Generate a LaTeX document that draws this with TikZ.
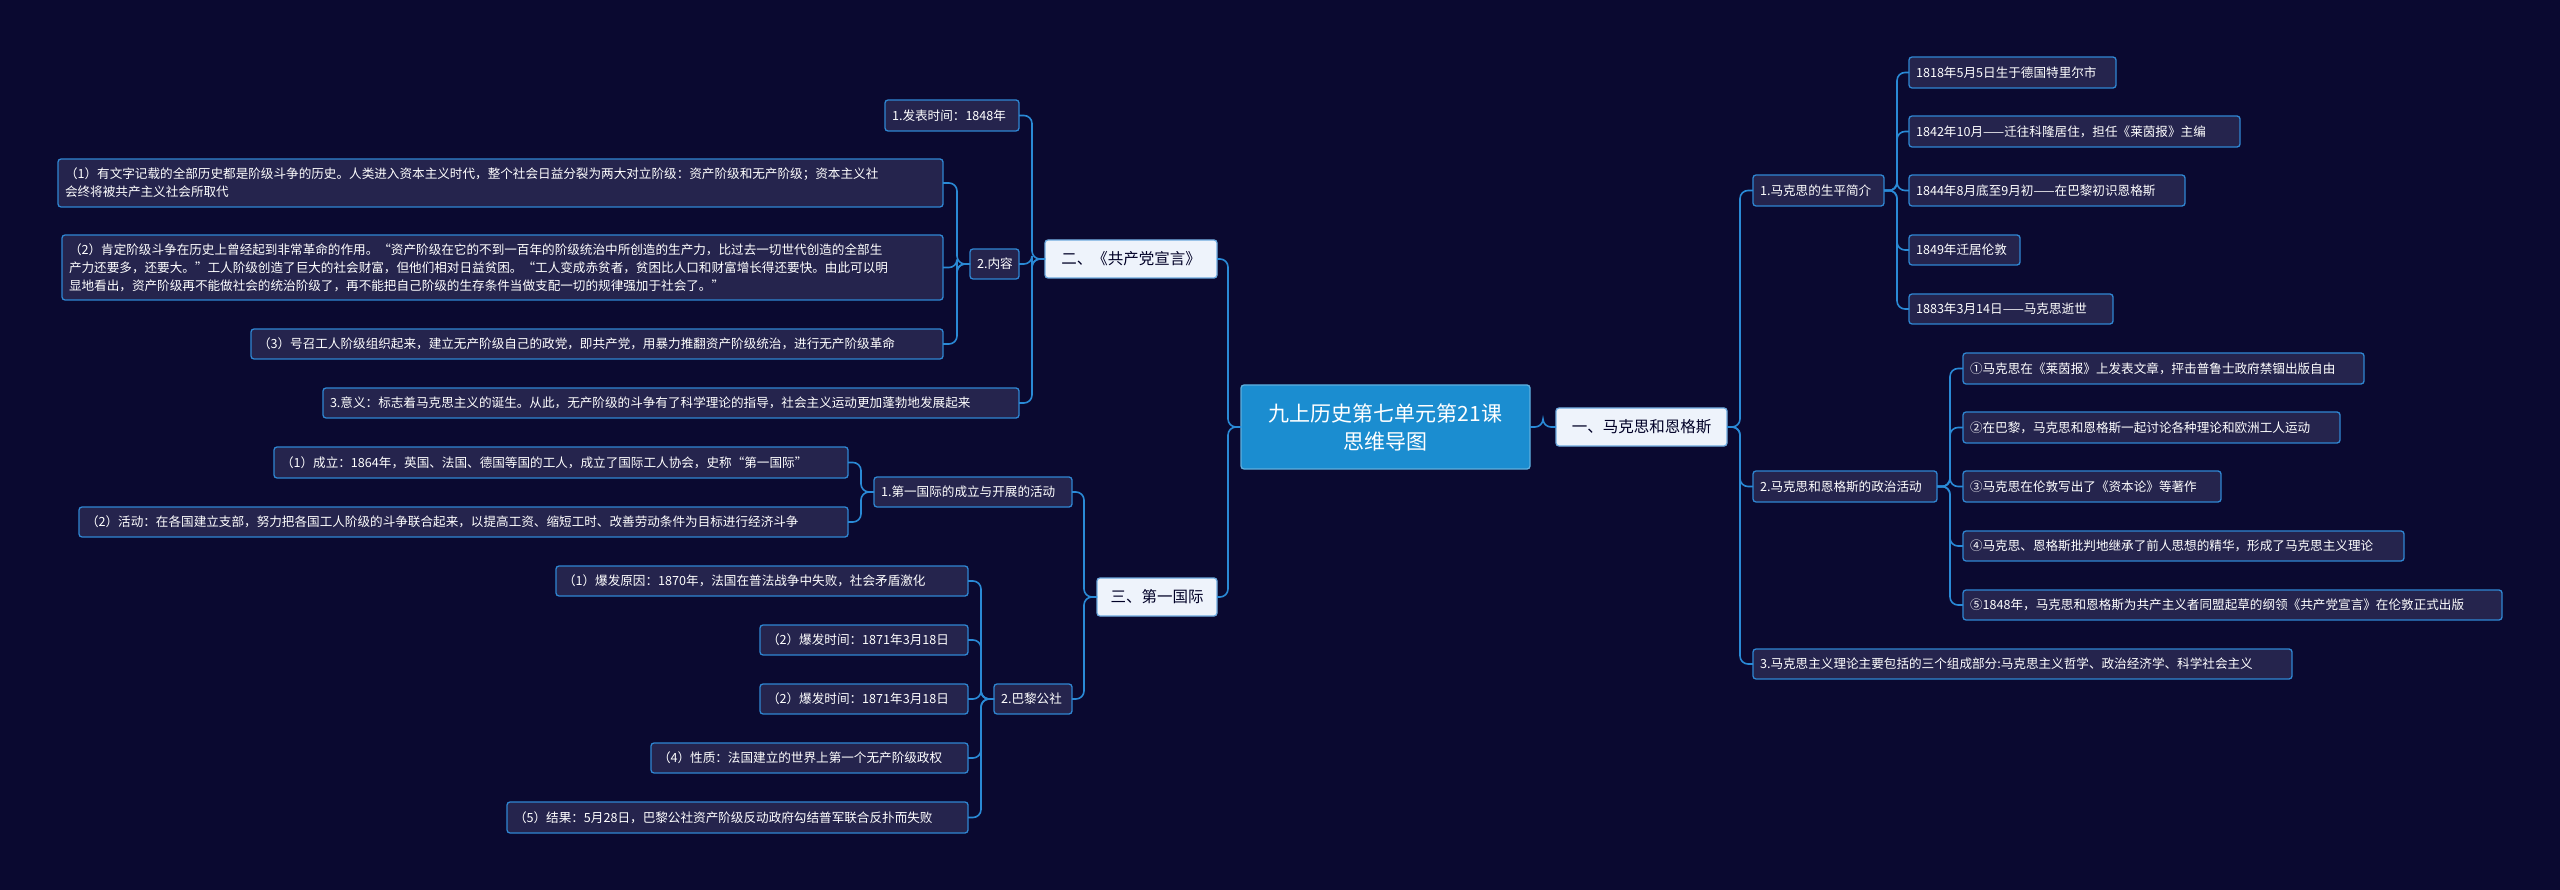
\documentclass[tikz,border=0pt]{standalone}
\usepackage{fontspec}
\setmainfont{Noto Sans CJK SC}
\definecolor{bg}{HTML}{0A0930}
\definecolor{nfill}{HTML}{25244D}
\definecolor{nborder}{HTML}{2F86D2}
\definecolor{lineb}{HTML}{2A8AD6}
\definecolor{cfill}{HTML}{1B8DD0}
\definecolor{lfill}{HTML}{EEF3FB}
\tikzset{
  nd/.style={draw=nborder,fill=nfill,line width=1.3pt,rounded corners=3pt,text=white,
    font=\fontsize{12.6}{18}\selectfont,align=left,inner xsep=7pt,inner ysep=0pt,outer sep=0pt},
  lv/.style={nd,fill=lfill,draw=nborder!70!white,text=black!85!blue,font=\fontsize{15.5}{20}\selectfont,align=center},
  ct/.style={nd,fill=cfill,draw=cfill!70!white,font=\fontsize{21}{28}\selectfont,align=center},
  conn/.style={draw=lineb,line width=1.6pt,rounded corners=8pt}
}
\newcommand\bx[7][nd]{\pgfmathsetmacro\tw{#5-#3-14}\node[#1,text width=\tw pt,minimum height={(#6-#4)*1pt}] (#2) at ({(#3+#5)/2},{(#4+#6)/2}) {#7};}
\newcommand\conR[2]{\draw[conn] (#1.east) -- ++(13,0) |- (#2.west);}
\newcommand\conL[2]{\draw[conn] (#1.west) -- ++(-13,0) |- (#2.east);}
\begin{document}
\begin{tikzpicture}[x=1pt,y=-1pt]
\fill[bg] (0,0) rectangle (2560,890);
\useasboundingbox (0,0) rectangle (2560,890);
% center and level 1
\bx[ct]{c}{1241}{385}{1530}{469}{九上历史第七单元第21课\\思维导图}
\bx[lv]{a}{1556}{408}{1727}{446}{一、马克思和恩格斯}
\bx[lv]{b}{1045}{240}{1217}{278}{二、《共产党宣言》}
\bx[lv]{d}{1097}{578}{1217}{616}{三、第一国际}
% right branch
\bx{a1}{1753}{175}{1884}{206}{1.马克思的生平简介}
\bx{a2}{1753}{471}{1937}{502}{2.马克思和恩格斯的政治活动}
\bx{a3}{1753}{649}{2292}{679}{3.马克思主义理论主要包括的三个组成部分:马克思主义哲学、政治经济学、科学社会主义}
\bx{a11}{1909}{57}{2116}{88}{1818年5月5日生于德国特里尔市}
\bx{a12}{1909}{116}{2240}{147}{1842年10月——迁往科隆居住，担任《莱茵报》主编}
\bx{a13}{1909}{175}{2185}{206}{1844年8月底至9月初——在巴黎初识恩格斯}
\bx{a14}{1909}{235}{2020}{265}{1849年迁居伦敦}
\bx{a15}{1909}{294}{2113}{324}{1883年3月14日——马克思逝世}
\bx{a21}{1963}{353}{2364}{384}{①马克思在《莱茵报》上发表文章，抨击普鲁士政府禁锢出版自由}
\bx{a22}{1963}{412}{2340}{443}{②在巴黎，马克思和恩格斯一起讨论各种理论和欧洲工人运动}
\bx{a23}{1963}{471}{2221}{502}{③马克思在伦敦写出了《资本论》等著作}
\bx{a24}{1963}{531}{2404}{561}{④马克思、恩格斯批判地继承了前人思想的精华，形成了马克思主义理论}
\bx{a25}{1963}{590}{2502}{620}{⑤1848年，马克思和恩格斯为共产主义者同盟起草的纲领《共产党宣言》在伦敦正式出版}
% upper left branch
\bx{b1}{885}{100}{1019}{131}{1.发表时间：1848年}
\bx{b2}{970}{249}{1019}{279}{2.内容}
\bx{b3}{323}{388}{1019}{418}{3.意义：标志着马克思主义的诞生。从此，无产阶级的斗争有了科学理论的指导，社会主义运动更加蓬勃地发展起来}
\bx{b21}{58}{159}{943}{207}{（1）有文字记载的全部历史都是阶级斗争的历史。人类进入资本主义时代，整个社会日益分裂为两大对立阶级：资产阶级和无产阶级；资本主义社\\会终将被共产主义社会所取代}
\bx{b22}{62}{235}{943}{300}{（2）肯定阶级斗争在历史上曾经起到非常革命的作用。“资产阶级在它的不到一百年的阶级统治中所创造的生产力，比过去一切世代创造的全部生\\产力还要多，还要大。”工人阶级创造了巨大的社会财富，但他们相对日益贫困。“工人变成赤贫者，贫困比人口和财富增长得还要快。由此可以明\\显地看出，资产阶级再不能做社会的统治阶级了，再不能把自己阶级的生存条件当做支配一切的规律强加于社会了。”}
\bx{b23}{251}{329}{943}{359}{（3）号召工人阶级组织起来，建立无产阶级自己的政党，即共产党，用暴力推翻资产阶级统治，进行无产阶级革命}
% lower left branch
\bx{d1}{874}{477}{1072}{507}{1.第一国际的成立与开展的活动}
\bx{d2}{994}{684}{1072}{714}{2.巴黎公社}
\bx{d11}{274}{447}{848}{478}{（1）成立：1864年，英国、法国、德国等国的工人，成立了国际工人协会，史称“第一国际”}
\bx{d12}{79}{507}{848}{537}{（2）活动：在各国建立支部，努力把各国工人阶级的斗争联合起来，以提高工资、缩短工时、改善劳动条件为目标进行经济斗争}
\bx{d21}{556}{566}{968}{596}{（1）爆发原因：1870年，法国在普法战争中失败，社会矛盾激化}
\bx{d22}{760}{625}{968}{655}{（2）爆发时间：1871年3月18日}
\bx{d23}{760}{684}{968}{714}{（2）爆发时间：1871年3月18日}
\bx{d24}{651}{743}{968}{773}{（4）性质：法国建立的世界上第一个无产阶级政权}
\bx{d25}{507}{802}{968}{833}{（5）结果：5月28日，巴黎公社资产阶级反动政府勾结普军联合反扑而失败}
% connectors
\conR{c}{a}
\conL{c}{b}\conL{c}{d}
\conR{a}{a1}\conR{a}{a2}\conR{a}{a3}
\conR{a1}{a11}\conR{a1}{a12}\conR{a1}{a13}\conR{a1}{a14}\conR{a1}{a15}
\conR{a2}{a21}\conR{a2}{a22}\conR{a2}{a23}\conR{a2}{a24}\conR{a2}{a25}
\conL{b}{b1}\conL{b}{b2}\conL{b}{b3}
\conL{b2}{b21}\conL{b2}{b22}\conL{b2}{b23}
\conL{d}{d1}\conL{d}{d2}
\conL{d1}{d11}\conL{d1}{d12}
\conL{d2}{d21}\conL{d2}{d22}\conL{d2}{d23}\conL{d2}{d24}\conL{d2}{d25}
\end{tikzpicture}
\end{document}
